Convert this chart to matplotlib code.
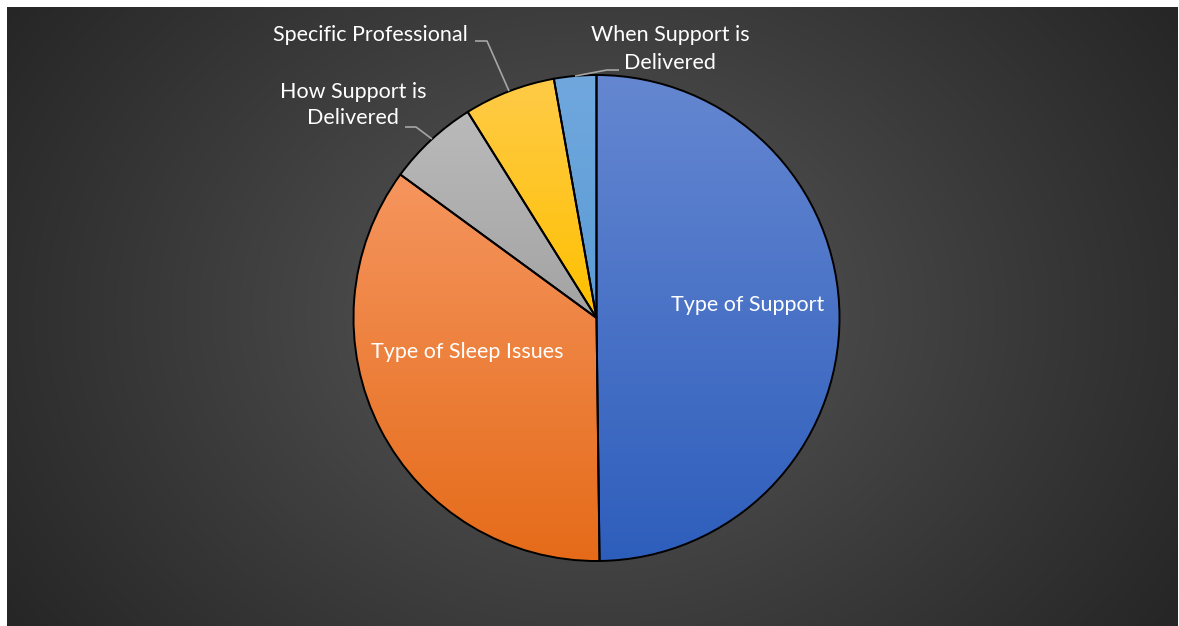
import numpy as np
import matplotlib.pyplot as plt
from matplotlib.colors import to_rgb

# Share of responses per theme (percent)
categories = ["Type of Support", "Type of Sleep Issues", "How Support is\nDelivered",
              "Specific Professional", "When Support is\nDelivered"]
shares = [49.8, 35.25, 6.06, 6.08, 2.81]

# Vertical gradient of each slice: colour at the top and at the bottom
top_colors = ["#6587d1", "#f5955e", "#bababa", "#ffcb47", "#70a8de"]
bottom_colors = ["#2e5ebc", "#e56b19", "#a3a3a3", "#fec000", "#5b9bd5"]

W, H = 1179, 626
fig = plt.figure(figsize=(W / 100, H / 100), dpi=100)
fig.patch.set_facecolor("white")
ax = fig.add_axes([0, 0, 1, 1])

# Dark radial-gradient panel
px0, px1, py0, py1 = 7, 1178, 0, 619
xs = np.linspace(px0, px1, 600)
ys = np.linspace(py1, py0, 320)
gx, gy = np.meshgrid(xs, ys)
cx, cy = 590, 313
d = np.sqrt(((gx - cx) / 700.0) ** 2 + ((gy - cy) / 560.0) ** 2)
d = np.clip(d, 0, 1)
c_in = np.array(to_rgb("#5c5c5c"))
c_out = np.array(to_rgb("#262626"))
t = d[..., None] ** 0.9
bg = c_in * (1 - t) + c_out * t
ax.imshow(bg, extent=(px0, px1, py0, py1), origin="upper", aspect="auto",
          zorder=0, interpolation="bilinear")

# Pie
center = (596.5, 626 - 318)
radius = 243
wedges, _ = ax.pie(shares, startangle=90, counterclock=False, center=center,
                   radius=radius, colors=bottom_colors,
                   wedgeprops=dict(edgecolor="black", linewidth=1.4))

for w, ctop, cbot in zip(wedges, top_colors, bottom_colors):
    verts = w.get_path().vertices
    ymin, ymax = verts[:, 1].min(), verts[:, 1].max()
    xmin, xmax = verts[:, 0].min(), verts[:, 0].max()
    tt = np.linspace(0, 1, 200)[:, None, None]
    grad = np.array(to_rgb(ctop)) * (1 - tt) + np.array(to_rgb(cbot)) * tt
    grad = np.repeat(grad, 2, axis=1)
    im = ax.imshow(grad, extent=(xmin, xmax, ymin, ymax), origin="upper",
                   aspect="auto", zorder=2, interpolation="bilinear")
    im.set_clip_path(w)
    w.set_facecolor("none")
    w.set_zorder(3)

font = dict(family="Lato", color="white", fontsize=15.5)

# Labels inside the two large slices
ax.text(748, 626 - 305, categories[0], ha="center", va="center", **font)
ax.text(467, 626 - 352, categories[1], ha="center", va="center", **font)

# Labels outside the small slices
ax.text(353, 626 - 105, categories[2], ha="center", va="center",
        linespacing=1.4, **font)
ax.text(370, 626 - 35, categories[3], ha="center", va="center", **font)
ax.text(670, 626 - 49, categories[4], ha="center", va="center",
        linespacing=1.45, **font)

# Leader lines
lead = dict(color="#a6a6a6", lw=1.2, zorder=4, solid_capstyle="butt")
for pts in [[(405, 127), (416, 127), (432, 139)],
            [(475, 41), (487, 41), (509, 91)],
            [(619, 70), (607, 70), (575, 76)]]:
    ax.plot([p[0] for p in pts], [626 - p[1] for p in pts], **lead)

ax.set_xlim(0, W)
ax.set_ylim(0, H)
ax.set_aspect("auto")
ax.axis("off")

fig.savefig("out.png", dpi=100, facecolor="white")
